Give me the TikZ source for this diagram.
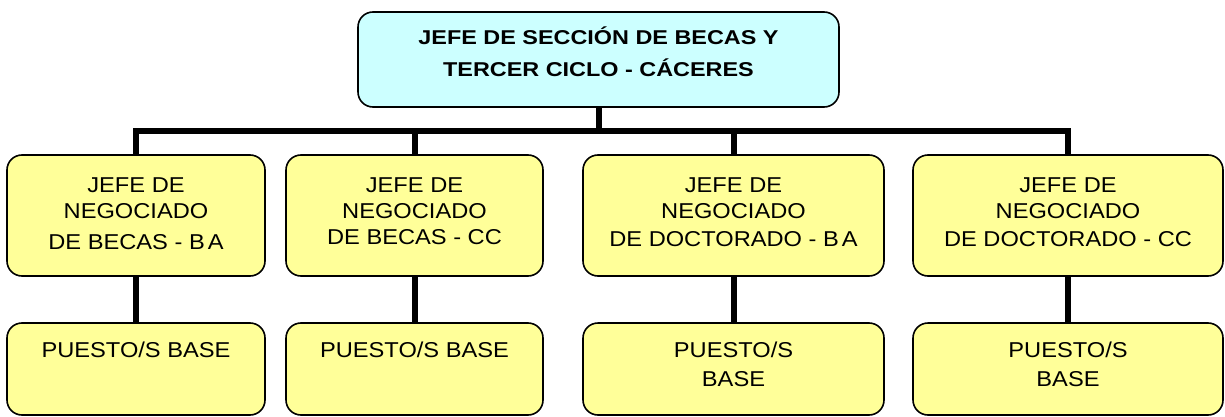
\documentclass[tikz,border=0pt]{standalone}
\usepackage{fontspec}
\setmainfont{Liberation Sans}
\newfontfamily\regf[FakeStretch=1.1]{Liberation Sans}
\newfontfamily\bldf[FakeStretch=1.17]{Liberation Sans}
\definecolor{topfill}{HTML}{CCFFFF}
\definecolor{boxfill}{HTML}{FFFF99}
\tikzset{
  box/.style={draw=black, line width=1.6pt, rounded corners=15pt, inner sep=0pt},
  topbox/.style={box, fill=topfill},
  ybox/.style={box, fill=boxfill},
  conn/.style={line width=6pt, draw=black},
  lbl/.style={anchor=base, inner sep=0pt, font=\regf\fontsize{21.5}{26}\selectfont},
  tlbl/.style={anchor=base, inner sep=0pt, font=\bldf\bfseries\fontsize{20}{32}\selectfont}
}
\begin{document}
\begin{tikzpicture}[x=1pt,y=-1pt]
\useasboundingbox (0,0) rectangle (1225,417);
% boxes
\node[topbox, minimum width=481pt, minimum height=95pt] (top) at (598.5,59.5) {};
\node[ybox, minimum width=258pt, minimum height=121pt] (b1) at (136,215.5) {};
\node[ybox, minimum width=257pt, minimum height=121pt] (b2) at (414.5,215.5) {};
\node[ybox, minimum width=301pt, minimum height=121pt] (b3) at (733.5,215.5) {};
\node[ybox, minimum width=310pt, minimum height=121pt] (b4) at (1068,215.5) {};
\node[ybox, minimum width=258pt, minimum height=92pt] (p1) at (136,369) {};
\node[ybox, minimum width=257pt, minimum height=92pt] (p2) at (414.5,369) {};
\node[ybox, minimum width=301pt, minimum height=92pt] (p3) at (733.5,369) {};
\node[ybox, minimum width=310pt, minimum height=92pt] (p4) at (1068,369) {};
% connectors
\coordinate (bar) at (598.5,131);
\draw[conn] (top.south) -- (top.south |- bar);
\draw[conn] (b1.north) -- (b1.north |- bar) -- (b4.north |- bar) -- (b4.north);
\draw[conn] (b2.north) -- (b2.north |- bar);
\draw[conn] (b3.north) -- (b3.north |- bar);
\draw[conn] (b1.south) -- (p1.north);
\draw[conn] (b2.south) -- (p2.north);
\draw[conn] (b3.south) -- (p3.north);
\draw[conn] (b4.south) -- (p4.north);
% texts
\node[tlbl] (ttop) at (598.5,45) {\begin{tabular}[t]{@{}c@{}}JEFE DE SECCIÓN DE BECAS Y\\TERCER CICLO - CÁCERES\end{tabular}};
\node[lbl] (t1) at (136,192) {\begin{tabular}[t]{@{}c@{}}JEFE DE\\NEGOCIADO\\[5pt]DE BECAS - B\kern3pt A\end{tabular}};
\node[lbl] (t2) at (414.5,192) {\begin{tabular}[t]{@{}c@{}}JEFE DE\\NEGOCIADO\\DE BECAS - CC\end{tabular}};
\node[lbl] (t3) at (733.5,192) {\begin{tabular}[t]{@{}c@{}}JEFE DE\\NEGOCIADO\\[2pt]DE DOCTORADO - B\kern3pt A\end{tabular}};
\node[lbl] (t4) at (1068,192) {\begin{tabular}[t]{@{}c@{}}JEFE DE\\NEGOCIADO\\[2pt]DE DOCTORADO - CC\end{tabular}};
\node[lbl] (s1) at (136,357) {PUESTO/S BASE};
\node[lbl] (s2) at (414.5,357) {PUESTO/S BASE};
\node[lbl, font=\regf\fontsize{21.5}{29}\selectfont] (s3) at (733.5,357) {\begin{tabular}[t]{@{}c@{}}PUESTO/S\\BASE\end{tabular}};
\node[lbl, font=\regf\fontsize{21.5}{29}\selectfont] (s4) at (1068,357) {\begin{tabular}[t]{@{}c@{}}PUESTO/S\\BASE\end{tabular}};
\end{tikzpicture}
\end{document}
